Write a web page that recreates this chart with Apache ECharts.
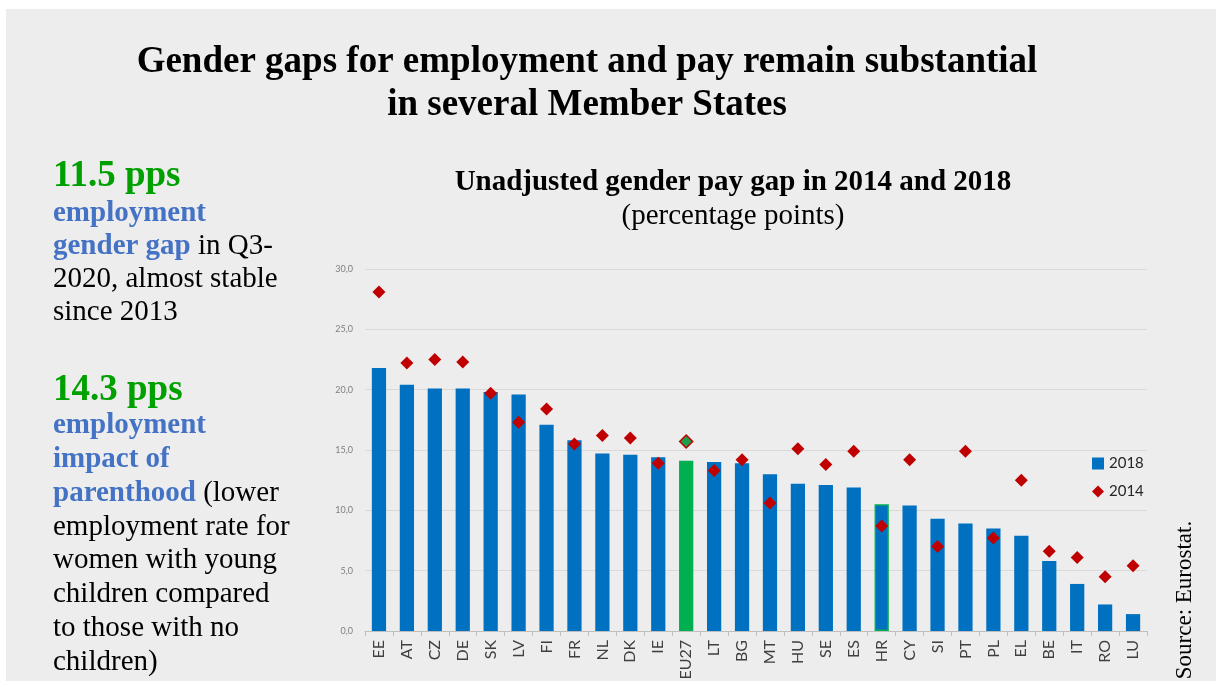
<!DOCTYPE html>
<html>
<head>
<meta charset="utf-8">
<script src="https://cdn.jsdelivr.net/npm/echarts@6/dist/echarts.min.js"></script>
<style>
html,body{margin:0;padding:0;background:#ffffff;}
#chart{position:absolute;left:0;top:0;width:1222px;height:687px;}
</style>
</head>
<body>
<div id="chart"></div>
<script>
const categories = ['EE','AT','CZ','DE','SK','LV','FI','FR','NL','DK','IE','EU27','LT','BG','MT','HU','SE','ES','HR','CY','SI','PT','PL','EL','BE','IT','RO','LU'];
const values2018 = [21.8,20.4,20.1,20.1,19.8,19.6,17.1,15.8,14.7,14.6,14.4,14.1,14.0,13.9,13.0,12.2,12.1,11.9,10.5,10.4,9.3,8.9,8.5,7.9,5.8,3.9,2.2,1.4];
const values2014 = [28.1,22.2,22.5,22.3,19.7,17.3,18.4,15.5,16.2,16.0,13.9,15.7,13.3,14.2,10.6,15.1,13.8,14.9,8.7,14.2,7.0,14.9,7.7,12.5,6.6,6.1,4.5,5.4];
const yTicks = [0,5,10,15,20,25,30];

// side-panel text, one entry per line: [style, text] segments
const block1 = [
  [['g', '11.5 pps']],
  [['b', 'employment']],
  [['b', 'gender gap'], ['t', ' in Q3-']],
  [['t', '2020, almost stable']],
  [['t', 'since 2013']]
];
const block2 = [
  [['g', '14.3 pps']],
  [['b', 'employment']],
  [['b', 'impact of']],
  [['b', 'parenthood'], ['t', ' (lower']],
  [['t', 'employment rate for']],
  [['t', 'women with young']],
  [['t', 'children compared']],
  [['t', 'to those with no']],
  [['t', 'children)']]
];

const BLUE = '#0070C0', GREEN = '#00B050', RED = '#C00000';
const SERIF = 'Liberation Serif';
const SANS = 'Lato';

const segStyles = {
  g: {font: 'bold 37px "Liberation Serif"', fill: '#00A000'},
  b: {font: 'bold 29px "Liberation Serif"', fill: '#4472C4'},
  t: {font: '29px "Liberation Serif"', fill: '#000000'}
};
const measureCtx = document.createElement('canvas').getContext('2d');
function textWidth(font, s) { measureCtx.font = font; return measureCtx.measureText(s).width; }

function blockElements(lines, x, firstCenterY, secondCenterY, lineStep) {
  const els = [];
  lines.forEach((segs, li) => {
    const cy = li === 0 ? firstCenterY : secondCenterY + (li - 1) * lineStep;
    let cx = x;
    segs.forEach(([k, s]) => {
      const st = segStyles[k];
      els.push({type: 'text', x: cx, y: cy, silent: true,
        style: {text: s, font: st.font, fill: st.fill, align: 'left', verticalAlign: 'middle'}});
      cx += textWidth(st.font, s);
    });
  });
  return els;
}

const barData = values2018.map((v, i) => {
  const c = categories[i];
  if (c === 'EU27') return {value: v, itemStyle: {color: GREEN}};
  if (c === 'HR') return {value: v, itemStyle: {color: BLUE, borderColor: GREEN, borderWidth: 1.5}};
  return v;
});
const scatterData = values2014.map((v, i) => {
  if (categories[i] === 'EU27') return {value: v, itemStyle: {color: '#1E9E4A', borderColor: RED, borderWidth: 1.5}};
  return v;
});

const chart = echarts.init(document.getElementById('chart'), null, {renderer: 'canvas'});

chart.setOption({
  backgroundColor: '#ffffff',
  animation: false,
  graphic: [
    {type: 'rect', left: 6, top: 9, shape: {width: 1210, height: 672}, style: {fill: '#EDEDED'}, z: -10, silent: true},
    {type: 'text', x: 1185, y: 600, rotation: Math.PI / 2, silent: true, style: {
      text: 'Source: Eurostat.', font: '23px "Liberation Serif"', fill: '#000', align: 'center', verticalAlign: 'middle'
    }}
  ].concat(
    blockElements(block1, 53, 176, 214, 32.7),
    blockElements(block2, 53, 390, 426, 33.7)
  ),
  title: [
    {text: 'Gender gaps for employment and pay remain substantial\nin several Member States',
     left: 582, top: 36, textAlign: 'center',
     textStyle: {fontFamily: SERIF, fontSize: 37, fontWeight: 'bold', color: '#000', lineHeight: 43, align: 'center'}},
    {text: 'Unadjusted gender pay gap in 2014 and 2018', subtext: '(percentage points)',
     left: 733, top: 168, textAlign: 'center', itemGap: 5, padding: 0,
     textStyle: {fontFamily: SERIF, fontSize: 29, fontWeight: 'bold', color: '#000'},
     subtextStyle: {fontFamily: SERIF, fontSize: 29, color: '#000'}}
  ],
  legend: {
    orient: 'vertical', left: 1087, top: 451, itemGap: 13, itemWidth: 12, itemHeight: 12,
    textStyle: {fontFamily: SANS, fontSize: 15, color: '#262626'},
    data: [{name: '2018', icon: 'rect'}, {name: '2014', icon: 'diamond'}]
  },
  grid: {left: 365, right: 75, top: 269, bottom: 56, containLabel: false},
  xAxis: {
    type: 'category', data: categories,
    axisLine: {lineStyle: {color: '#BFBFBF', width: 1}},
    axisTick: {show: true, alignWithLabel: false, length: 5, lineStyle: {color: '#BFBFBF'}},
    axisLabel: {rotate: 90, fontFamily: SANS, fontSize: 16, color: '#404040', margin: 9, interval: 0}
  },
  yAxis: {
    type: 'value', min: 0, max: 30, interval: 5,
    axisLine: {show: false}, axisTick: {show: false},
    splitLine: {lineStyle: {color: '#D9D9D9', width: 1}},
    axisLabel: {fontFamily: SANS, fontSize: 9, color: '#7F7F7F', margin: 12,
      formatter: v => yTicks.includes(v) ? v.toFixed(1).replace('.', ',') : ''}
  },
  series: [
    {name: '2018', type: 'bar', data: barData, barWidth: '51%', itemStyle: {color: BLUE, opacity: 1}},
    {name: '2014', type: 'scatter', data: scatterData, symbol: 'diamond', symbolSize: 13, itemStyle: {color: RED, opacity: 1}, z: 5}
  ]
});
</script>
</body>
</html>
